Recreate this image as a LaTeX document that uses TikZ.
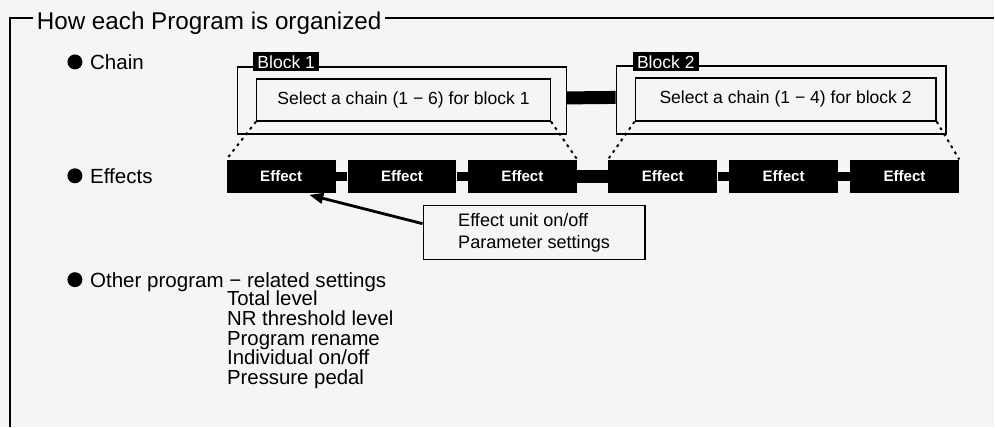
\documentclass[tikz,border=0pt]{standalone}
\usepackage{fontspec}
\setmainfont{Liberation Sans}
\usetikzlibrary{positioning,arrows.meta}

\begin{document}
\begin{tikzpicture}[x=0.02cm,y=-0.02cm,
    frame/.style={line width=1.3pt},
    box/.style={draw,line width=0.8pt,inner sep=0pt},
    tag/.style={fill=black,text=white,font=\fontsize{10}{12}\selectfont,inner xsep=2.5pt,inner ysep=1.5pt,minimum height=0.38cm,anchor=west},
    effect/.style={fill=black,text=white,font=\bfseries\fontsize{8.6}{10}\selectfont,minimum width=2.18cm,minimum height=0.66cm,inner sep=0pt},
    dot/.style={circle,fill=black,minimum size=0.3cm,inner sep=0pt},
    item/.style={font=\fontsize{11.7}{14}\selectfont,inner sep=0pt,text depth=0pt,anchor=west},
    link/.style={line width=0.18cm},
    dotline/.style={line width=1.1pt,dash pattern=on 1.6pt off 2.4pt},
    pointer/.style={line width=1.6pt,-{Triangle[length=8pt,width=6pt]}}
  ]
    % Draw paper background
    \fill[gray!8] (0,0) rectangle (995,427);
    % Draw frame and title
    \node[font=\fontsize{13.8}{16}\selectfont,anchor=base west,inner xsep=2pt] (title) at (33,30) {How each Program is organized};
    \coordinate (tl) at (10,18);
    \coordinate (bl) at (10,427);
    \coordinate (tr) at (995,18);
    \draw[frame] (title.west |- tl) -- (tl) -- (bl);
    \draw[frame] (title.east |- tl) -- (tr);
    % Draw chain blocks
    \node[box,minimum width=6.58cm,minimum height=1.34cm] (b1) at (402.5,100.5) {};
    \node[box,minimum width=5.88cm,minimum height=0.84cm,font=\fontsize{10}{12}\selectfont] (b1in) at (404,100) {Select a chain (1 − 6) for block 1};
    \node[box,minimum width=6.6cm,minimum height=1.36cm] (b2) at (782,100) {};
    \node[box,minimum width=6.02cm,minimum height=0.86cm,font=\fontsize{10}{12}\selectfont] (b2in) at (786.5,99.5) {Select a chain (1 − 4) for block 2};
    \draw[line width=0.26cm] ([yshift=1.4pt]b1.east) -- ([yshift=1.4pt]b2.west);
    \node[tag] (tag1) at (253,62) {Block 1};
    \node[tag] (tag2) at (633,62) {Block 2};
    % Draw effect units
    \node[effect] (e1) at (281.5,176.5) {Effect};
    \node[effect] (e2) at (402.5,176.5) {Effect};
    \node[effect] (e3) at (523,176.5) {Effect};
    \node[effect] (e4) at (663.5,176.5) {Effect};
    \node[effect] (e5) at (784.5,176.5) {Effect};
    \node[effect] (e6) at (905.5,176.5) {Effect};
    \draw[link] (e1) -- (e2);
    \draw[link] (e2) -- (e3);
    \draw[line width=0.26cm] (e3) -- (e4);
    \draw[link] (e4) -- (e5);
    \draw[link] (e5) -- (e6);
    % Dotted lines from the blocks to their effects
    \draw[dotline] (b1in.south west) -- (e1.north west);
    \draw[dotline] (b1in.south east) -- (e3.north east);
    \draw[dotline] (b2in.south west) -- (e4.north west);
    \draw[dotline] (b2in.south east) -- (e6.north east);
    % Draw callout
    \node[box,anchor=north west,minimum width=4.44cm,minimum height=1.08cm,align=left,font=\fontsize{10.3}{12.5}\selectfont] (info) at (423,205) {Effect unit on/off\\Parameter settings};
    \draw[pointer] ([yshift=5pt]info.west) -- ([xshift=16pt,yshift=-1pt]e1.south);
    % Draw bullet list
    \node[dot] (chaindot) at (75,62) {};
    \node[item,right=4pt of chaindot] (chain) {Chain};
    \node[dot] (effdot) at (75,176) {};
    \node[item,right=4pt of effdot] (eff) {Effects};
    \node[dot] (otherdot) at (75,280) {};
    \node[item,right=4pt of otherdot] (other) {Other program − related settings};
    \node[align=left,anchor=north west,inner sep=0pt,font=\fontsize{11.6}{11.2}\selectfont] (settings) at (227,291) {
        Total level\\
        NR threshold level\\
        Program rename\\
        Individual on/off\\
        Pressure pedal
    };
\end{tikzpicture}
\end{document}
